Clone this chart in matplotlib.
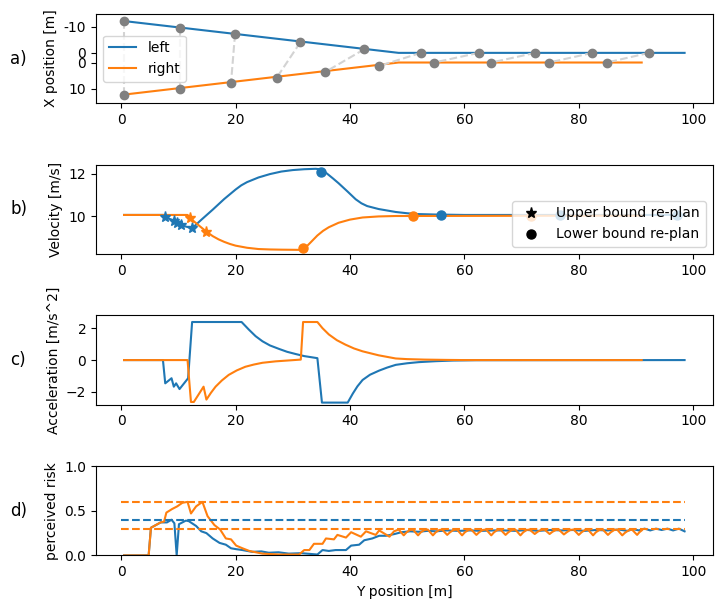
""" Two vehicle merge: position, velocity, acceleration and perceived risk. """

import matplotlib
matplotlib.use('Agg')
import matplotlib.pyplot as plt
from matplotlib.lines import Line2D


""" Data """

# a) lateral position over Y position
left_pos_y = [0.5, 48.5, 98.5]
left_pos_x = [-12.2, 0.0, 0.0]
right_pos_y = [0.5, 48.5, 91.0]
right_pos_x = [12.3, 0.0, 0.0]

# sampled positions of both vehicles at the same time instants
snap_left_y = [0.5, 10.2, 19.9, 31.3, 42.5, 52.4, 62.5, 72.4, 82.4, 92.3]
snap_left_x = [-12.2, -9.4, -7.2, -4.0, -1.4, 0.0, 0.0, 0.0, 0.0, 0.0]
snap_right_y = [0.5, 10.2, 19.2, 27.2, 35.7, 45.0, 54.7, 64.7, 74.8, 84.9]
snap_right_x = [12.6, 10.3, 7.8, 5.8, 3.6, 1.4, 0.0, 0.0, 0.0, 0.0]

# b) velocity
left_vel_y = [0.5, 7.4, 7.7, 9.2, 9.8, 10.4, 12.4, 13.0, 14.0, 16.0, 18.0, 20.0,
              21.0, 22.0, 24.0, 26.0, 28.0, 30.0, 32.0, 34.0, 35.0, 36.0, 37.0,
              38.0, 39.6, 41.0, 42.0, 43.0, 45.0, 48.0, 50.0, 52.0, 55.0, 60.0, 98.5]
left_vel = [10.05, 10.05, 9.95, 9.78, 9.65, 9.57, 9.42, 9.57, 9.82, 10.3, 10.8, 11.25,
            11.45, 11.6, 11.82, 11.98, 12.1, 12.17, 12.21, 12.23, 12.2, 12.0, 11.78,
            11.55, 11.15, 10.79, 10.6, 10.47, 10.33, 10.19, 10.13, 10.09, 10.07, 10.05, 10.05]
right_vel_y = [0.5, 11.6, 12.1, 12.7, 14.9, 16.0, 17.0, 18.0, 19.0, 20.0, 22.0, 24.0,
               26.0, 28.0, 31.5, 32.0, 33.0, 34.3, 35.3, 36.3, 38.0, 40.0, 42.2, 45.0,
               48.0, 91.0]
right_vel = [10.05, 10.05, 9.92, 9.75, 9.26, 9.05, 8.9, 8.78, 8.68, 8.6, 8.5, 8.44,
             8.42, 8.41, 8.4, 8.45, 8.72, 9.08, 9.3, 9.47, 9.68, 9.83, 9.93, 9.98,
             10.0, 10.02]

# re-plan events
left_upper_y = [7.7, 9.2, 9.8, 10.4, 12.4]
left_upper_v = [9.95, 9.78, 9.65, 9.57, 9.42]
right_upper_y = [12.1, 14.9]
right_upper_v = [9.92, 9.26]
left_lower_y = [35.0, 55.9, 76.7, 97.2]
left_lower_v = [12.07, 10.07, 10.05, 10.05]
right_lower_y = [31.8, 51.0, 71.6]
right_lower_v = [8.47, 10.0, 10.02]

# c) acceleration
left_acc_y = [0.5, 7.3, 7.7, 8.8, 9.2, 9.6, 10.2, 11.7, 12.4, 21.05, 22.3, 23.5,
              24.7, 26.0, 27.6, 29.0, 30.5, 32.0, 34.3, 35.1, 39.6, 40.5, 41.3,
              42.2, 43.5, 45.1, 46.5, 48.0, 50.0, 52.0, 55.0, 58.0, 62.0, 98.5]
left_acc = [0.0, 0.0, -1.46, -1.14, -1.67, -1.46, -1.82, -1.14, 2.39, 2.39, 1.92, 1.5,
            1.18, 0.92, 0.7, 0.52, 0.38, 0.25, 0.12, -2.67, -2.67, -2.1, -1.65,
            -1.25, -0.92, -0.66, -0.47, -0.3, -0.2, -0.13, -0.07, -0.03, -0.01, 0.0]
right_acc_y = [0.5, 11.6, 12.2, 12.7, 14.4, 14.9, 15.7, 16.5, 17.6, 18.8, 20.2, 21.7,
               23.2, 24.7, 27.0, 29.0, 31.4, 31.8, 34.3, 35.2, 36.3, 37.7, 39.2,
               40.7, 42.2, 45.0, 48.0, 50.0, 53.0, 57.0, 60.0, 91.0]
right_acc = [0.0, 0.0, -2.63, -2.63, -1.67, -2.48, -2.05, -1.67, -1.28, -0.93, -0.65, -0.42,
             -0.28, -0.17, -0.08, -0.03, 0.03, 2.39, 2.39, 2.0, 1.61, 1.25, 0.97,
             0.73, 0.55, 0.3, 0.1, 0.06, 0.03, 0.01, 0.0, 0.0]

# d) perceived risk
left_risk_y = [0.5, 4.8, 5.2, 6.9, 7.5, 8.0, 8.8, 9.3, 9.7, 10.1, 11.3, 11.8, 13.1,
               14.0, 14.9, 16.0, 17.2, 18.3, 19.2, 20.1, 21.2, 22.9, 24.5, 25.8, 27.5,
               29.3, 31.5, 34.3, 35.2, 36.3, 37.5, 39.3, 40.2, 41.6, 42.5, 43.9, 45.1,
               46.3, 47.8, 49.0, 50.5, 52.0, 53.5, 55.0, 57.0, 59.0, 61.0, 63.0, 65.0,
               67.0, 69.0, 71.0, 73.0, 75.0, 77.0, 79.0, 81.0, 83.0, 85.0, 87.0, 88.5,
               89.5, 90.5, 91.5, 92.5, 93.5, 94.5, 95.5, 96.5, 97.5, 98.5]
left_risk = [0.0, 0.0, 0.31, 0.37, 0.37, 0.37, 0.40, 0.36, 0.0, 0.35, 0.39, 0.385, 0.33,
             0.27, 0.25, 0.19, 0.14, 0.12, 0.08, 0.07, 0.06, 0.04, 0.045, 0.03, 0.035,
             0.02, 0.025, 0.01, 0.06, 0.05, 0.06, 0.06, 0.11, 0.12, 0.17, 0.19, 0.22,
             0.22, 0.24, 0.26, 0.27, 0.265, 0.275, 0.27, 0.28, 0.275, 0.28, 0.275, 0.28,
             0.28, 0.275, 0.285, 0.275, 0.285, 0.28, 0.285, 0.275, 0.285, 0.28, 0.29, 0.275,
             0.295, 0.28, 0.30, 0.28, 0.30, 0.285, 0.30, 0.28, 0.30, 0.27]
right_risk_y = [0.5, 4.8, 5.2, 6.9, 7.5, 7.9, 8.9, 9.8, 10.7, 11.6, 12.2, 13.1, 14.2,
                15.1, 16.3, 17.3, 18.3, 19.2, 20.1, 21.2, 22.4, 24.7, 27.6, 31.1, 32.0,
                32.9, 33.7, 35.2, 35.8, 37.2, 37.8, 39.3, 40.2, 41.9, 42.8, 44.5, 45.1,
                46.9, 47.7,
                48.5, 49.4, 49.9, 50.5, 51.0, 51.9, 52.4, 53.0, 53.6, 54.5, 55.0, 55.6,
                56.1, 57.0, 57.5, 58.1, 58.7, 59.6, 60.1, 60.7, 61.2, 62.1, 62.6, 63.2,
                63.8, 64.7, 65.2, 65.8, 66.3, 67.2, 67.7, 68.3, 68.9, 69.8, 70.3, 70.9,
                71.4, 72.3, 72.8, 73.4, 74.0, 74.9, 75.4, 76.0, 76.5, 77.4, 77.9, 78.5,
                79.1, 80.0, 80.5, 81.1, 81.6, 82.5, 83.0, 83.6, 84.2, 85.1, 85.6, 86.2,
                86.7, 87.6, 88.1, 88.7, 89.3, 90.2, 90.6, 91.0]
right_risk = [0.0, 0.0, 0.31, 0.37, 0.38, 0.48, 0.52, 0.55, 0.59, 0.60, 0.47, 0.55, 0.60,
              0.44, 0.34, 0.29, 0.19, 0.18, 0.11, 0.08, 0.05, 0.02, 0.01, 0.01, 0.06,
              0.06, 0.13, 0.13, 0.19, 0.18, 0.23, 0.20, 0.26, 0.21, 0.27, 0.23, 0.28,
              0.21, 0.27,
              0.29, 0.225, 0.26, 0.285, 0.29, 0.225, 0.26, 0.285, 0.29, 0.225, 0.26, 0.285,
              0.29, 0.23, 0.26, 0.285, 0.29, 0.225, 0.26, 0.285, 0.29, 0.23, 0.26, 0.285,
              0.29, 0.225, 0.26, 0.285, 0.29, 0.23, 0.26, 0.285, 0.29, 0.225, 0.26, 0.285,
              0.29, 0.24, 0.265, 0.285, 0.29, 0.24, 0.265, 0.285, 0.29, 0.235, 0.26, 0.285,
              0.29, 0.23, 0.26, 0.285, 0.29, 0.225, 0.26, 0.285, 0.29, 0.23, 0.26, 0.285,
              0.29, 0.225, 0.255, 0.28, 0.29, 0.23, 0.26, 0.28]

# risk thresholds
left_threshold = [0.4]
right_thresholds = [0.3, 0.6]
threshold_span = [0.0, 98.5]

# gap between the two zero lines in panel a
RIGHT_OFFSET = 3.7

""" Plot """

fig, axes = plt.subplots(4, 1, figsize=(7.22, 6.09), dpi=100)
plt.subplots_adjust(left=0.133, right=0.987, top=0.977, bottom=0.088, hspace=0.69)
ax_a, ax_b, ax_c, ax_d = axes

# a)
ax_a.plot(left_pos_y, left_pos_x, color='C0', label='left', zorder=2)
ax_a.plot(right_pos_y, [x + RIGHT_OFFSET for x in right_pos_x], color='C1', label='right', zorder=2)
for yl, xl, yr, xr in zip(snap_left_y, snap_left_x, snap_right_y, snap_right_x):
    ax_a.plot([yl, yr], [xl, xr + RIGHT_OFFSET], '--', color='lightgray', zorder=3)
ax_a.plot(snap_left_y, snap_left_x, 'o', color='gray', markersize=6, zorder=4)
ax_a.plot(snap_right_y, [x + RIGHT_OFFSET for x in snap_right_x], 'o', color='gray',
          markersize=6, zorder=4)
ax_a.set_yticks([-10, 0, RIGHT_OFFSET, 10 + RIGHT_OFFSET])
ax_a.set_yticklabels(['-10', '0', '0', '10'])
ax_a.set_ylim(19.3, -14.9)
ax_a.set_ylabel('X position [m]')
ax_a.legend(loc='center left')

# b)
ax_b.plot(left_vel_y, left_vel, color='C0')
ax_b.plot(right_vel_y, right_vel, color='C1')
ax_b.plot(left_upper_y, left_upper_v, '*', color='C0', markersize=8)
ax_b.plot(right_upper_y, right_upper_v, '*', color='C1', markersize=8)
ax_b.plot(left_lower_y, left_lower_v, 'o', color='C0', markersize=6.5)
ax_b.plot(right_lower_y, right_lower_v, 'o', color='C1', markersize=6.5)
handles = [Line2D([], [], marker='*', color='k', linestyle='none', markersize=8),
           Line2D([], [], marker='o', color='k', linestyle='none', markersize=6.5)]
ax_b.legend(handles, ['Upper bound re-plan', 'Lower bound re-plan'], loc='lower right')
ax_b.set_ylabel('Velocity [m/s]')

# c)
ax_c.plot(left_acc_y, left_acc, color='C0')
ax_c.plot(right_acc_y, right_acc, color='C1')
ax_c.set_ylim(-2.8, 2.8)
ax_c.set_ylabel('Acceleration [m/s^2]')

# d)
ax_d.plot(left_risk_y, left_risk, color='C0')
ax_d.plot(right_risk_y, right_risk, color='C1')
for level in left_threshold:
    ax_d.plot(threshold_span, [level, level], '--', color='C0')
for level in right_thresholds:
    ax_d.plot(threshold_span, [level, level], '--', color='C1')
ax_d.set_ylim(0, 1)
ax_d.set_ylabel('perceived risk')
ax_d.set_xlabel('Y position [m]')

for ax in axes:
    ax.set_xlim(-4.4, 103.4)

for ax, tag in zip(axes, ['a)', 'b)', 'c)', 'd)']):
    pos = ax.get_position()
    fig.text(0.014, (pos.y0 + pos.y1) / 2, tag, fontsize=12, va='center')

plt.savefig('out.png')
